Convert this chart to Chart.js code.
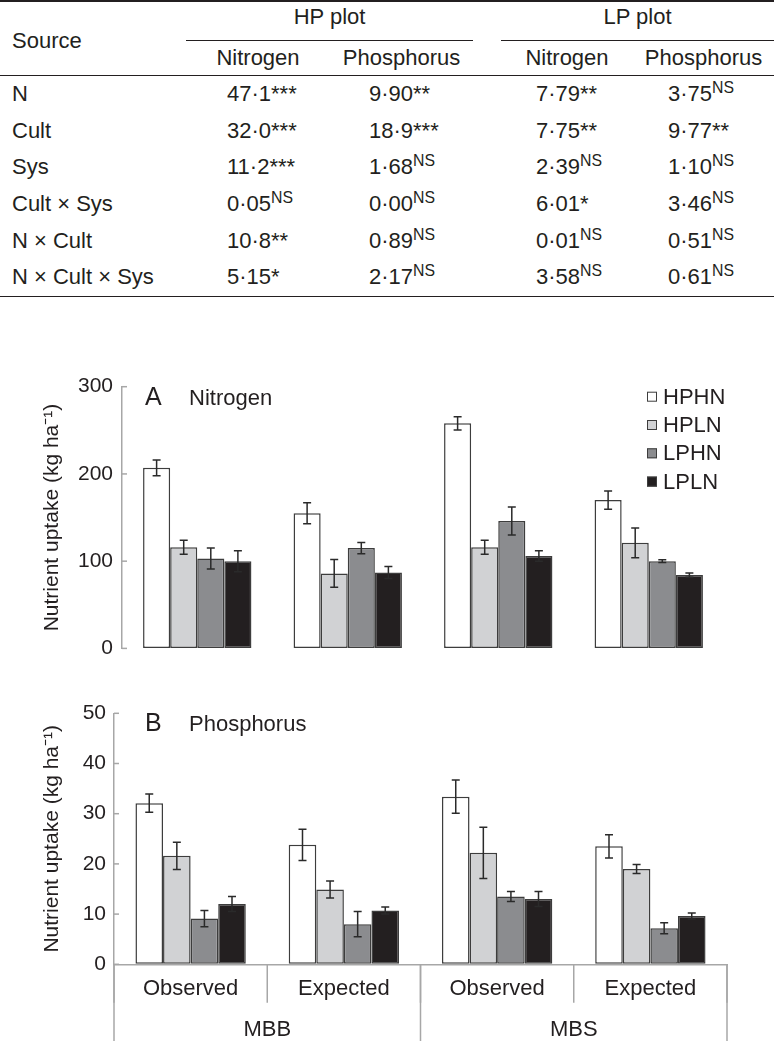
<!DOCTYPE html>
<html>
<head>
<meta charset="utf-8">
<title>Nutrient uptake</title>
<script src="https://cdn.jsdelivr.net/npm/chart.js@4.4.1/dist/chart.umd.min.js"></script>
<style>
    body {
        margin: 0;
        width: 774px;
        height: 1041px;
        background: #fff;
        color: #231f20;
        font-family: "Liberation Sans", Arial, sans-serif;
        position: relative;
        overflow: hidden;
    }
    table.anova {
        position: absolute;
        left: 0;
        top: 0;
        width: 774px;
        table-layout: fixed;
        border-collapse: collapse;
        font-size: 22px;
        border-top: 2px solid #231f20;
        border-bottom: 1.5px solid #231f20;
    }
    .anova th, .anova td {
        padding: 0;
        font-weight: normal;
        white-space: nowrap;
    }
    .anova .plot-row th { height: 36px; vertical-align: top; padding-top: 2px; }
    .anova .plot-row th.plot { border-bottom: 1.5px solid #231f20; }
    .anova .plot-row th.source { text-align: left; padding: 4px 0 0 12px; vertical-align: middle; border-bottom: 1.5px solid #231f20; }
    .anova .nutrient-row th { height: 34px; border-bottom: 1.5px solid #231f20; vertical-align: middle; }
    .anova tbody td { height: 36.6px; vertical-align: middle; }
    .anova tbody td:first-child { padding-left: 12px; }
    .anova td.hpn { padding-left: 41px; }
    .anova td.hpp { padding-left: 39px; }
    .anova td.lpn { padding-left: 35px; }
    .anova td.lpp { padding-left: 35px; }
    .anova sup { font-size: 0.72em; vertical-align: 0.5em; line-height: 0; }
    .anova sup.star { font-size: 1em; vertical-align: baseline; }
    #nitrogen-wrap { position: absolute; left: 0; top: 340px; width: 774px; height: 330px; }
    #phosphorus-wrap { position: absolute; left: 0; top: 680px; width: 774px; height: 361px; }
</style>
</head>
<body>

<table class="anova">
    <colgroup>
        <col style="width:186px"><col style="width:144px"><col style="width:143px">
        <col style="width:28px"><col style="width:132px"><col style="width:141px">
    </colgroup>
    <thead>
        <tr class="plot-row">
            <th class="source" rowspan="2">Source</th>
            <th class="plot" colspan="2">HP plot</th>
            <th></th>
            <th class="plot" colspan="2">LP plot</th>
        </tr>
        <tr class="nutrient-row">
            <th>Nitrogen</th><th>Phosphorus</th><th></th><th>Nitrogen</th><th>Phosphorus</th>
        </tr>
    </thead>
    <tbody>
        <tr><td>N</td><td class="hpn">47·1<sup class="star">***</sup></td><td class="hpp">9·90<sup class="star">**</sup></td><td></td><td class="lpn">7·79<sup class="star">**</sup></td><td class="lpp">3·75<sup>NS</sup></td></tr>
        <tr><td>Cult</td><td class="hpn">32·0<sup class="star">***</sup></td><td class="hpp">18·9<sup class="star">***</sup></td><td></td><td class="lpn">7·75<sup class="star">**</sup></td><td class="lpp">9·77<sup class="star">**</sup></td></tr>
        <tr><td>Sys</td><td class="hpn">11·2<sup class="star">***</sup></td><td class="hpp">1·68<sup>NS</sup></td><td></td><td class="lpn">2·39<sup>NS</sup></td><td class="lpp">1·10<sup>NS</sup></td></tr>
        <tr><td>Cult × Sys</td><td class="hpn">0·05<sup>NS</sup></td><td class="hpp">0·00<sup>NS</sup></td><td></td><td class="lpn">6·01<sup class="star">*</sup></td><td class="lpp">3·46<sup>NS</sup></td></tr>
        <tr><td>N × Cult</td><td class="hpn">10·8<sup class="star">**</sup></td><td class="hpp">0·89<sup>NS</sup></td><td></td><td class="lpn">0·01<sup>NS</sup></td><td class="lpp">0·51<sup>NS</sup></td></tr>
        <tr><td>N × Cult × Sys</td><td class="hpn">5·15<sup class="star">*</sup></td><td class="hpp">2·17<sup>NS</sup></td><td></td><td class="lpn">3·58<sup>NS</sup></td><td class="lpp">0·61<sup>NS</sup></td></tr>
    </tbody>
</table>

<div id="nitrogen-wrap"><canvas id="nitrogen-chart"></canvas></div>
<div id="phosphorus-wrap"><canvas id="phosphorus-chart"></canvas></div>

<script>
// Categories
const treatments = ['HPHN', 'HPLN', 'LPHN', 'LPLN'];
const methods = ['Observed', 'Expected', 'Observed', 'Expected'];
const plotTypes = ['MBB', 'MBS'];

// Tick labels
const nitrogenTicks = [0, 100, 200, 300];
const phosphorusTicks = [0, 10, 20, 30, 40, 50];

// Nitrogen uptake (kg/ha), one value per method column
const nitrogenHPHN = [207, 155, 258, 170];
const nitrogenHPLN = [116, 86, 116, 121];
const nitrogenLPHN = [103, 115, 146, 100];
const nitrogenLPLN = [100, 87, 106, 84];
const nitrogenHPHNErr = [9, 12, 7.5, 10.5];
const nitrogenHPLNErr = [8, 16, 8, 17];
const nitrogenLPHNErr = [12, 6.5, 16, 1.5];
const nitrogenLPLNErr = [12, 7, 6, 2.5];

// Phosphorus uptake (kg/ha)
const phosphorusHPHN = [32.1, 23.8, 33.4, 23.5];
const phosphorusHPLN = [21.6, 14.9, 22.2, 19.0];
const phosphorusLPHN = [9.1, 8.0, 13.5, 7.2];
const phosphorusLPLN = [12.0, 10.7, 13.0, 9.6];
const phosphorusHPHNErr = [1.8, 3.1, 3.3, 2.3];
const phosphorusHPLNErr = [2.7, 1.7, 5.1, 0.9];
const phosphorusLPHNErr = [1.6, 2.5, 1.0, 1.1];
const phosphorusLPLNErr = [1.5, 0.7, 1.5, 0.6];

// Styles
const fontFamily = "'Liberation Sans', Arial, sans-serif";
const ink = '#231f20';
const axisGray = '#a7a7a7';
const barEdge = '#3d3d3d';
const fills = ['#ffffff', '#d1d2d4', '#8b8c8f', '#231f20'];

Chart.defaults.font.family = fontFamily;
Chart.defaults.color = ink;

// Error bars drawn on top of each bar
const errorBars = {
    id: 'errorBars',
    afterDatasetsDraw(chart) {
        const ctx = chart.ctx;
        const y = chart.scales.y;
        ctx.save();
        ctx.strokeStyle = '#2a2a2a';
        ctx.lineWidth = 1.5;
        chart.data.datasets.forEach((ds, i) => {
            chart.getDatasetMeta(i).data.forEach((bar, j) => {
                const hi = y.getPixelForValue(ds.data[j] + ds.errors[j]);
                const lo = y.getPixelForValue(ds.data[j] - ds.errors[j]);
                ctx.beginPath();
                ctx.moveTo(bar.x, hi);
                ctx.lineTo(bar.x, lo);
                ctx.moveTo(bar.x - 4, hi);
                ctx.lineTo(bar.x + 4, hi);
                ctx.moveTo(bar.x - 4, lo);
                ctx.lineTo(bar.x + 4, lo);
                ctx.stroke();
            });
        });
        ctx.restore();
    }
};

// Short tick marks pointing into the plot
const innerTicks = {
    id: 'innerTicks',
    afterDraw(chart) {
        const ctx = chart.ctx;
        const y = chart.scales.y;
        const left = chart.chartArea.left;
        ctx.save();
        ctx.strokeStyle = axisGray;
        ctx.lineWidth = 1.5;
        y.ticks.forEach(t => {
            const py = y.getPixelForValue(t.value);
            ctx.beginPath();
            ctx.moveTo(left, py);
            ctx.lineTo(left + 5, py);
            ctx.stroke();
        });
        ctx.restore();
    }
};

// Panel letter and nutrient name
const panelLabel = {
    id: 'panelLabel',
    afterDraw(chart, args, opts) {
        const ctx = chart.ctx;
        const base = chart.chartArea.top + 18;
        ctx.save();
        ctx.fillStyle = ink;
        ctx.textBaseline = 'alphabetic';
        ctx.font = '25px ' + fontFamily;
        ctx.fillText(opts.letter, 145, base);
        ctx.font = '22px ' + fontFamily;
        ctx.fillText(opts.title, 189, base);
        ctx.restore();
    }
};

// Square-box legend in the top right of panel A
const boxLegend = {
    id: 'boxLegend',
    afterDraw(chart, args, opts) {
        if (!opts.show) return;
        const ctx = chart.ctx;
        const top = chart.chartArea.top;
        ctx.save();
        ctx.font = '22px ' + fontFamily;
        ctx.textBaseline = 'middle';
        chart.data.datasets.forEach((ds, i) => {
            const cy = top + 10 + i * 28.3;
            ctx.fillStyle = ds.backgroundColor;
            ctx.fillRect(647, cy - 5, 10, 10);
            ctx.strokeStyle = barEdge;
            ctx.lineWidth = 1;
            ctx.strokeRect(647.5, cy - 4.5, 9, 9);
            ctx.fillStyle = ink;
            ctx.fillText(ds.label, 663, cy + 1);
        });
        ctx.restore();
    }
};

// Box lines separating Observed/Expected and MBB/MBS under panel B
const groupDividers = {
    id: 'groupDividers',
    afterDraw(chart) {
        const x = chart.scales.x;
        const x2 = chart.scales.x2;
        if (!x2) return;
        const ctx = chart.ctx;
        ctx.save();
        ctx.strokeStyle = axisGray;
        ctx.lineWidth = 1.5;
        for (let i = 0; i <= methods.length; i++) {
            const px = x.getPixelForValue(i - 0.5);
            ctx.beginPath();
            ctx.moveTo(px, x.top);
            ctx.lineTo(px, x.bottom);
            ctx.stroke();
        }
        for (let i = 0; i <= plotTypes.length; i++) {
            const px = x2.getPixelForValue(i - 0.5);
            ctx.beginPath();
            ctx.moveTo(px, x.top);
            ctx.lineTo(px, x2.bottom);
            ctx.stroke();
        }
        ctx.restore();
    }
};

function buildDatasets(values, errors) {
    return treatments.map((name, i) => ({
        label: name,
        data: values[i],
        errors: errors[i],
        backgroundColor: fills[i],
        borderColor: barEdge,
        borderWidth: 1.5,
        borderSkipped: false,
        categoryPercentage: 0.72,
        barPercentage: 1.0
    }));
}

function yScale(ticks, axisWidth, tickPad) {
    return {
        min: ticks[0],
        max: ticks[ticks.length - 1],
        afterBuildTicks: scale => { scale.ticks = ticks.map(v => ({ value: v })); },
        afterFit: scale => { scale.width = axisWidth; },
        grid: { display: true, drawOnChartArea: false, drawTicks: false },
        border: { color: axisGray, width: 1.5 },
        ticks: { padding: tickPad, font: { size: 21 }, color: ink },
        title: {
            display: true,
            text: 'Nutrient uptake (kg ha⁻¹)',
            font: { size: 21 },
            color: ink,
            padding: { top: 40, bottom: 0 }
        }
    };
}

// Panel A: nitrogen
new Chart(document.getElementById('nitrogen-chart'), {
    type: 'bar',
    data: {
        labels: methods,
        datasets: buildDatasets(
            [nitrogenHPHN, nitrogenHPLN, nitrogenLPHN, nitrogenLPLN],
            [nitrogenHPHNErr, nitrogenHPLNErr, nitrogenLPHNErr, nitrogenLPLNErr]
        )
    },
    options: {
        responsive: true,
        maintainAspectRatio: false,
        animation: false,
        layout: { padding: { top: 46.7, right: 50, bottom: 19.3, left: 0 } },
        plugins: {
            legend: { display: false },
            tooltip: { enabled: false },
            panelLabel: { letter: 'A', title: 'Nitrogen' },
            boxLegend: { show: true }
        },
        scales: {
            x: { display: false, offset: true },
            y: yScale(nitrogenTicks, 122, 9)
        }
    },
    plugins: [errorBars, innerTicks, panelLabel, boxLegend]
});

// Panel B: phosphorus
new Chart(document.getElementById('phosphorus-chart'), {
    type: 'bar',
    data: {
        labels: methods,
        datasets: buildDatasets(
            [phosphorusHPHN, phosphorusHPLN, phosphorusLPHN, phosphorusLPLN],
            [phosphorusHPHNErr, phosphorusHPLNErr, phosphorusLPHNErr, phosphorusLPLNErr]
        )
    },
    options: {
        responsive: true,
        maintainAspectRatio: false,
        animation: false,
        layout: { padding: { top: 33.3, right: 47, bottom: 0, left: 0 } },
        plugins: {
            legend: { display: false },
            tooltip: { enabled: false },
            panelLabel: { letter: 'B', title: 'Phosphorus' },
            boxLegend: { show: false }
        },
        scales: {
            x: {
                position: 'bottom',
                offset: true,
                afterFit: scale => { scale.height = 38.5; },
                grid: { display: true, drawOnChartArea: false, drawTicks: false },
                border: { color: axisGray, width: 1.5 },
                ticks: { padding: 11, font: { size: 22 }, color: ink, maxRotation: 0 }
            },
            x2: {
                type: 'category',
                position: 'bottom',
                labels: plotTypes,
                offset: true,
                afterFit: scale => { scale.height = 38.2; },
                grid: { display: false },
                border: { display: false },
                ticks: { padding: 5.5, font: { size: 22 }, color: ink, maxRotation: 0 }
            },
            y: yScale(phosphorusTicks, 114, 8)
        }
    },
    plugins: [errorBars, innerTicks, panelLabel, groupDividers]
});
</script>
</body>
</html>
